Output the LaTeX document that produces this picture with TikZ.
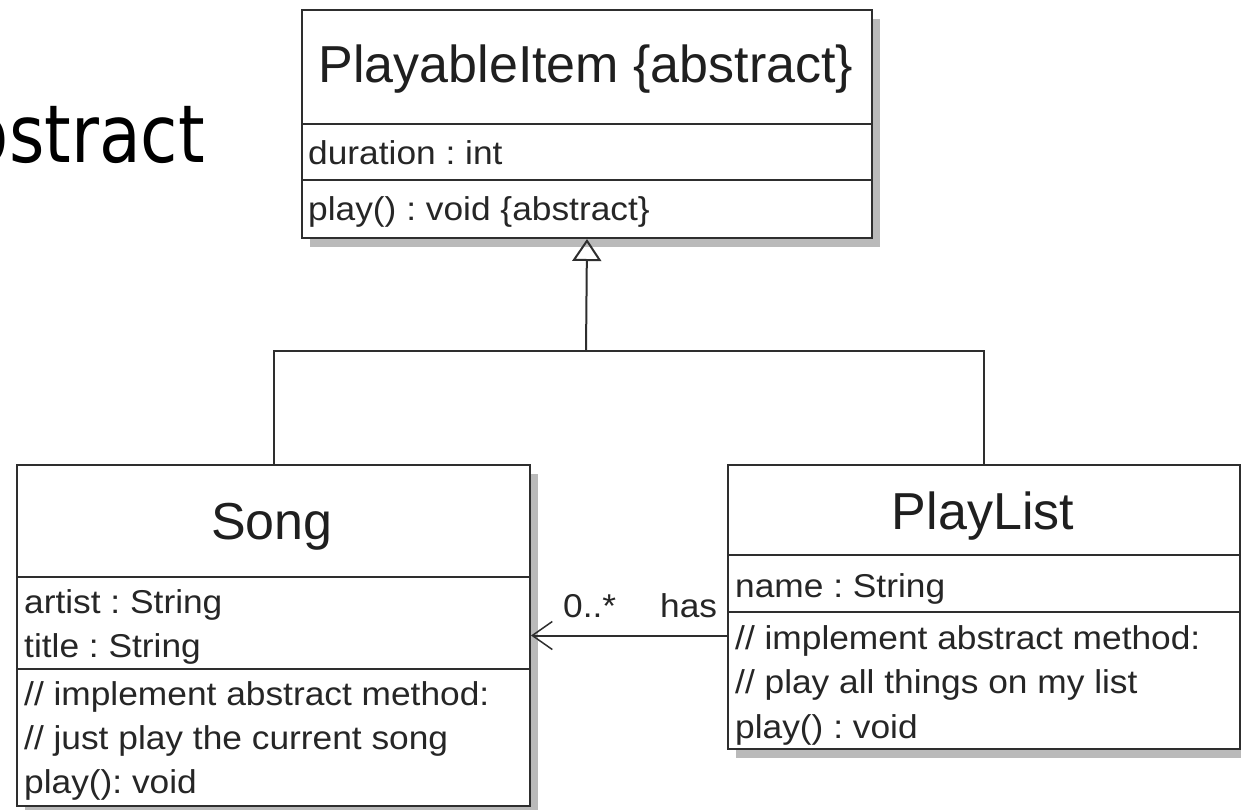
\documentclass[tikz,border=0pt]{standalone}
\usepackage{fontspec}
\setmainfont{Liberation Sans}
\newfontfamily\memberfont[FakeStretch=1.07]{Liberation Sans}
\newfontfamily\slidefont{DejaVu Sans}
\usetikzlibrary{arrows.meta,shadows}
\frenchspacing
\begin{document}
\begin{tikzpicture}[x=1pt,y=-1pt,
  cls/.style={draw=black!82, line width=2pt, fill=white, rectangle, inner sep=0pt,
    anchor=north west,
    drop shadow={shadow xshift=8pt, shadow yshift=-9pt, fill=black!27, opacity=1}},
  sepline/.style={draw=black!82, line width=2pt},
  title/.style={inner sep=0pt, font=\fontsize{52}{60}\selectfont, text=black!88},
  member/.style={inner sep=0pt, anchor=base west, font=\memberfont\fontsize{33}{40}\selectfont\frenchspacing, text=black!85},
  conn/.style={draw=black!82, line width=2pt},
  gen/.style={conn, -{Triangle[open, length=22pt, width=29pt, line width=2pt]}},
  assoc/.style={conn, -{Straight Barb[length=20pt, width=28pt, line width=1.5pt]}}
]
\useasboundingbox (0,0) rectangle (1241,809);
\fill[white] (0,0) rectangle (1241,809);

% slide title fragment (cut off at the left edge, as in the reference)
\begin{scope}
  \clip (0,0) rectangle (290,250);
  \node[inner sep=0pt, anchor=base east, font=\slidefont\fontsize{80}{90}\selectfont, xscale=0.85] (slide) at (205,162) {abstract};
\end{scope}

% PlayableItem
\node[cls, minimum width=570pt, minimum height=228pt] (item) at (301,9) {};
\draw[sepline] (item.west |- 0,124) -- (item.east |- 0,124);
\draw[sepline] (item.west |- 0,180) -- (item.east |- 0,180);
\node[title] (itemt) at (586,69) {PlayableItem \{abstract\}};
\node[member] (item1) at (308,164) {duration : int};
\node[member] (item2) at (308,220) {play() : void \{abstract\}};

% Song
\node[cls, minimum width=513pt, minimum height=341pt] (song) at (16,464) {};
\draw[sepline] (song.west |- 0,577) -- (song.east |- 0,577);
\draw[sepline] (song.west |- 0,669) -- (song.east |- 0,669);
\node[title] (songt) at (272,527) {Song};
\node[member] (song1) at (24,613) {artist : String};
\node[member] (song2) at (24,657) {title : String};
\node[member] (song3) at (24,705) {// implement abstract method:};
\node[member] (song4) at (24,749) {// just play the current song};
\node[member] (song5) at (24,793) {play(): void};

% PlayList
\node[cls, minimum width=512pt, minimum height=284pt] (plist) at (727,464) {};
\draw[sepline] (plist.west |- 0,555) -- (plist.east |- 0,555);
\draw[sepline] (plist.west |- 0,612) -- (plist.east |- 0,612);
\node[title] (plistt) at (983,516) {PlayList};
\node[member] (plist1) at (735,597) {name : String};
\node[member] (plist2) at (735,649) {// implement abstract method:};
\node[member] (plist3) at (735,693) {// play all things on my list};
\node[member] (plist4) at (735,738) {play() : void};

% generalization
\coordinate (j) at (586,351);
\draw[conn] (song.north) |- (j) -| (plist.north);
\draw[gen] (j) -- (item.south);

% association
\draw[assoc] (plist.west |- song.east) -- (song.east);
\node[member] (mult) at (563,617) {0..*};
\node[member] (has) at (660,617) {has};
\end{tikzpicture}
\end{document}
